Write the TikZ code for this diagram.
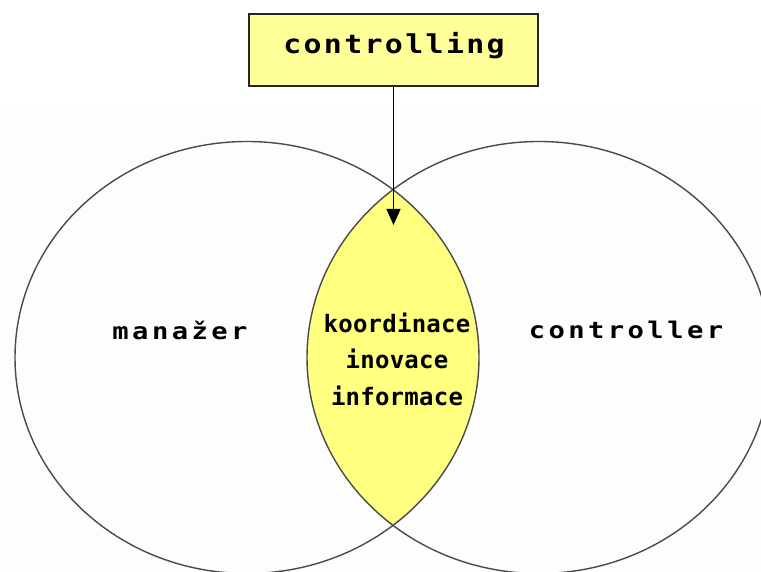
\documentclass[tikz,border=0pt]{standalone}
\usepackage{fontspec}
\usetikzlibrary{arrows.meta}
\newfontfamily\boxfont{DejaVu Sans Mono Bold}[FakeStretch=1.15, LetterSpace=9]
\newfontfamily\setfont{DejaVu Sans Mono Bold}[FakeStretch=1.18, LetterSpace=15]
\newfontfamily\lensfont{DejaVu Sans Mono Bold}[LetterSpace=1]
\definecolor{boxyellow}{HTML}{FFFF99}
\definecolor{lensyellow}{HTML}{FFFF80}
\definecolor{ringgray}{HTML}{4A4A4A}
\definecolor{paper}{HTML}{FDFDFD}
\tikzset{
  ring/.style={draw=ringgray, line width=1.4pt},
  setlabel/.style={anchor=base, inner sep=0pt, font=\setfont\fontsize{23}{23}\selectfont},
  lenslabel/.style={anchor=base, inner sep=0pt, font=\lensfont\fontsize{24}{24}\selectfont},
  titlebox/.style={draw=black!85, line width=1.5pt, fill=boxyellow, minimum width=289pt,
    minimum height=72pt, inner sep=0pt},
  titletext/.style={anchor=base, inner sep=0pt, font=\boxfont\fontsize{26}{26}\selectfont},
  pointer/.style={line width=1.2pt, -{Triangle[length=16pt, width=14pt]}}
}
\begin{document}
\begin{tikzpicture}[x=1pt, y=-1pt]
  \useasboundingbox (0,0) rectangle (761,572);
  \clip (0,0) rectangle (761,572);
  % faint backdrop below the header strip
  \fill[paper] (0,105) rectangle (761,572);
  % shared region of the two sets
  \begin{scope}
    \clip (247,357.5) ellipse [x radius=232, y radius=216];
    \fill[lensyellow] (539,357.5) ellipse [x radius=232, y radius=216];
  \end{scope}
  % the two sets
  \draw[ring] (247,357.5) ellipse [x radius=232, y radius=216];
  \draw[ring] (539,357.5) ellipse [x radius=232, y radius=216];
  % labels
  \node[setlabel] (man) at (180,339) {manažer};
  \node[setlabel] (ctl) at (626,338) {controller};
  \node[lenslabel] (k1) at (397,333) {koordinace};
  \node[lenslabel] (k2) at (397,368.5) {inovace};
  \node[lenslabel] (k3) at (397,405) {informace};
  % title box and pointer
  \node[titlebox] (top) at (393.5,50) {};
  \node[titletext] (toptext) at (394,54) {controlling};
  \coordinate (tip) at (393.5,225);
  \draw[pointer] (top.south) -- (tip);
\end{tikzpicture}
\end{document}
